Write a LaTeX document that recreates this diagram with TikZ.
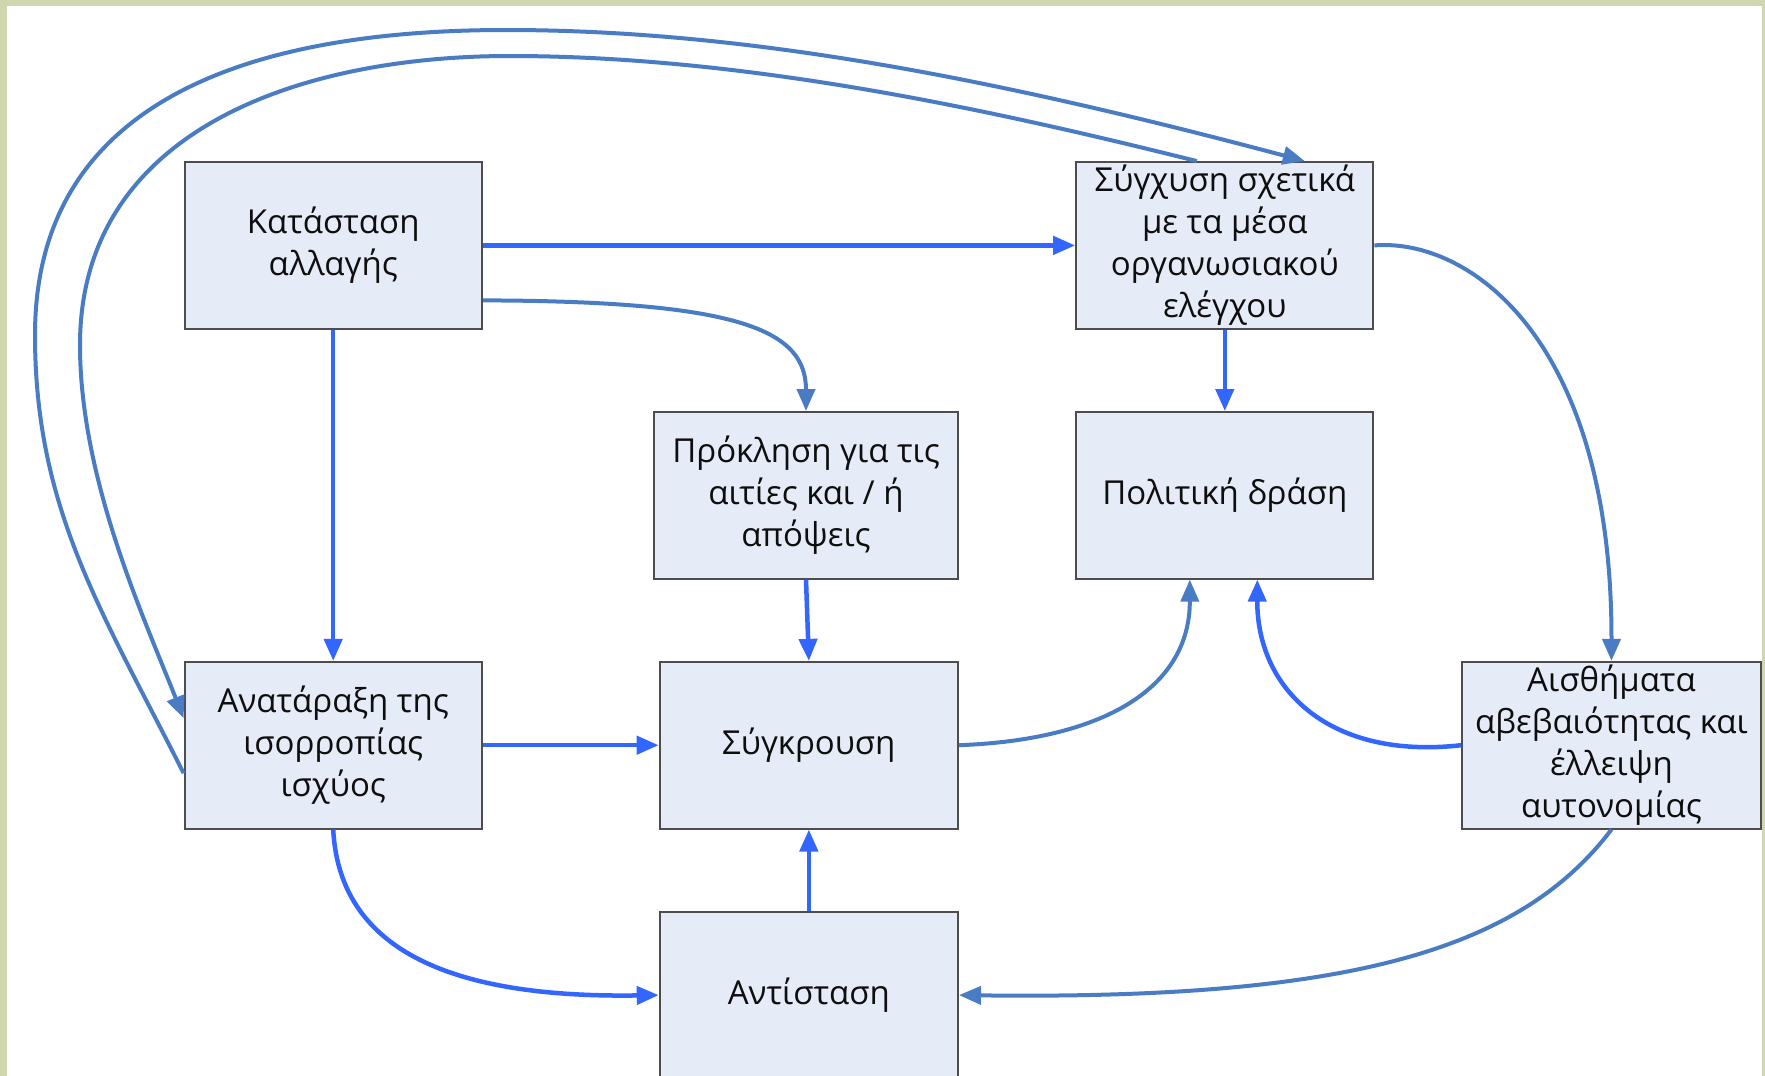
\documentclass[tikz,border=0pt]{standalone}
\usepackage{fontspec}
\setmainfont{Open Sans}
\usetikzlibrary{arrows.meta}
\definecolor{bright}{HTML}{3366FF}
\definecolor{steel}{HTML}{4A7CC4}
\definecolor{boxfill}{HTML}{E6ECF7}
\definecolor{boxline}{HTML}{4D4D4D}
\definecolor{frameg}{HTML}{D0D7AE}
\definecolor{txt}{HTML}{0E0E0E}
\tikzset{
  box/.style={draw=boxline, line width=2pt, fill=boxfill, inner sep=0pt,
    minimum height=166.6pt, align=center, text=txt,
    font=\fontsize{33}{42}\selectfont},
  tip/.style={-{Triangle[length=22pt,width=18pt]}},
  brightline/.style={draw=bright, line width=4.5pt, tip},
  steelline/.style={draw=steel, line width=4pt, tip},
}
\begin{document}
\begin{tikzpicture}[x=1pt,y=-1pt]
\useasboundingbox (0,0) rectangle (1765,1076);
\fill[white] (0,0) rectangle (1765,1076);
\fill[frameg] (0,0) rectangle (1765,6);
\fill[frameg] (0,0) rectangle (7,1076);
\fill[frameg] (1762,0) rectangle (1765,1076);

\node[box, minimum width=297.2pt] (kat) at (333.2,245.4) {Κατάσταση\\αλλαγής};
\node[box, minimum width=297.2pt] (syg) at (1224.8,245.4) {Σύγχυση σχετικά\\με τα μέσα\\οργανωσιακού\\ελέγχου};
\node[box, minimum width=304pt] (prok) at (806,495.3) {Πρόκληση για τις\\αιτίες και / ή\\απόψεις};
\node[box, minimum width=297.2pt] (pol) at (1224.8,495.3) {Πολιτική δράση};
\node[box, minimum width=297.2pt] (anat) at (333.2,745.2) {Ανατάραξη της\\ισορροπίας\\ισχύος};
\node[box, minimum width=298.3pt] (sygk) at (808.85,745.2) {Σύγκρουση};
\node[box, minimum width=298.3pt] (ais) at (1611.45,745.2) {Αισθήματα\\αβεβαιότητας και\\έλλειψη\\αυτονομίας};
\node[box, minimum width=298.3pt] (ant) at (808.85,995.1) {Αντίσταση};

\coordinate (k2) at ([yshift=-55pt]kat.east);
\coordinate (p1) at ([xshift=-35pt]pol.south);
\coordinate (p2) at ([xshift=32.5pt]pol.south);
\coordinate (o1) at ([yshift=-28pt]anat.west);
\coordinate (o2) at ([xshift=80pt]syg.north);
\coordinate (i1) at ([xshift=-28pt]syg.north);
\coordinate (i2) at ([yshift=27pt]anat.west);

\draw[brightline] (kat.east) -- (syg.west);
\draw[steelline] (k2) .. controls (740,301) and (806,330) .. (prok.north);
\draw[brightline] (kat.south) -- (anat.north);
\draw[brightline] (syg.south) -- (pol.north);
\draw[steelline] (syg.east) .. controls (1470,238) and (1612,340) .. (ais.north);
\draw[brightline] (prok.south) -- (sygk.north);
\draw[brightline] (anat.east) -- (sygk.west);
\draw[steelline] (sygk.east) .. controls (1100,740) and (1190,690) .. (p1);
\draw[brightline] (ais.west) .. controls (1330,760) and (1257,690) .. (p2);
\draw[brightline] (ant.north) -- (sygk.south);
\draw[brightline] (anat.south) .. controls (340,960) and (470,998) .. (ant.west);
\draw[steelline] (ais.south) .. controls (1520,950) and (1350,1000) .. (ant.east);
\draw[steelline] (o1) .. controls (103,613) and (35,510) .. (35,335)
  .. controls (35,90) and (270,30) .. (506,30)
  .. controls (750,30) and (1000,80) .. (o2);
\draw[steelline] (i1) .. controls (1000,112) and (750,56) .. (510,56)
  .. controls (300,56) and (80,130) .. (80,345)
  .. controls (80,480) and (145,620) .. (i2);
\end{tikzpicture}
\end{document}
